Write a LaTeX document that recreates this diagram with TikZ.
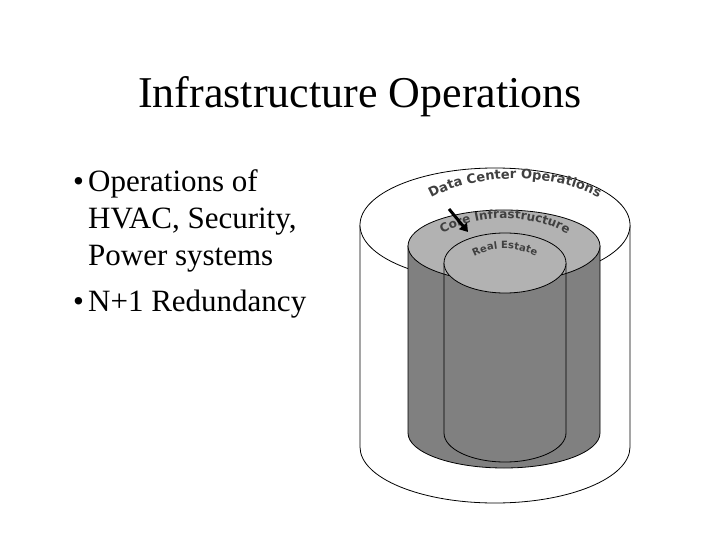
\documentclass[tikz,border=0pt]{standalone}
\usepackage{fontspec}
\setmainfont{Liberation Serif}
\newfontfamily\lblfont{DejaVu Sans}
\usetikzlibrary{decorations.text,arrows.meta}
\begin{document}
\begin{tikzpicture}[x=1pt,y=-1pt,
  edge/.style={draw=black,line width=0.8pt},
  curvelbl/.style 2 args={decorate,decoration={text along path,text align=center,
     text={|\lblfont\bfseries\fontsize{#2}{#2}\selectfont\color{black!75}|#1}}}]
\useasboundingbox (0,0) rectangle (720,540);
% outer cylinder
\draw[edge,fill=white] (360,225) -- (360,447) arc[start angle=180,end angle=0,x radius=135,y radius=56] -- (630,225);
\draw[edge,fill=white] (495,225) ellipse[x radius=135,y radius=57];
% middle cylinder
\draw[edge,fill=black!50] (408,246) -- (408,433) arc[start angle=180,end angle=0,x radius=96,y radius=35] -- (600,246) -- cycle;
\draw[edge,fill=black!30] (504,246) ellipse[x radius=96,y radius=36];
% inner cylinder
\draw[edge] (444,263) -- (444,433) arc[start angle=180,end angle=0,x radius=61,y radius=29] -- (566,263);
\draw[edge,fill=black!30] (505,263) ellipse[x radius=61,y radius=30];
% labels
\coordinate (d1) at (420,205); \coordinate (d2) at (610,205);
\path[curvelbl={Data Center Operations}{13}] (d1) .. controls (470,170) and (560,170) .. (d2);
\coordinate (c1) at (436,238); \coordinate (c2) at (574,238);
\path[curvelbl={Core Infrastructure}{12}] (c1) .. controls (475,212) and (535,212) .. (c2);
\coordinate (r1) at (468,260); \coordinate (r2) at (542,260);
\path[curvelbl={Real Estate}{10}] (r1) .. controls (490,245) and (520,245) .. (r2);
% arrow
\coordinate (a1) at (449,209); \coordinate (a2) at (468,232);
\draw[line width=3pt,-{Triangle[length=8pt,width=10pt]}] (a1) -- (a2);
% text
\node (title) at (360,97) {\fontsize{44}{48}\selectfont Infrastructure Operations};
\node[anchor=north west,align=left,inner sep=0pt,font=\fontsize{31}{37}\selectfont] (b1) at (73,169) {%
\makebox[15pt][l]{•}Operations of\\ \hspace*{15pt}HVAC, Security,\\ \hspace*{15pt}Power systems\\[9pt]\makebox[15pt][l]{•}N+1 Redundancy};
\end{tikzpicture}
\end{document}
